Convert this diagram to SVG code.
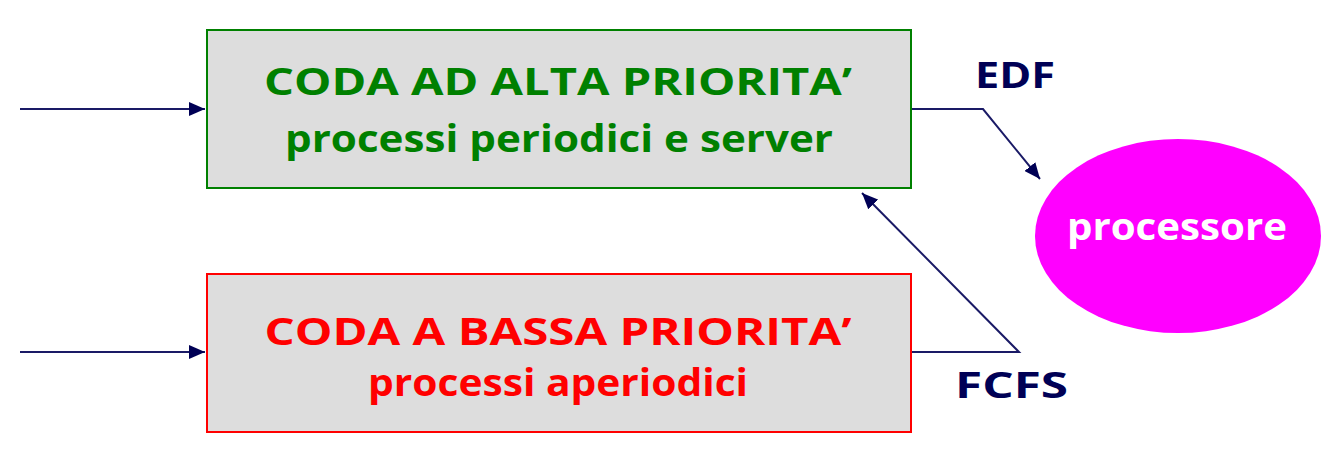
<svg xmlns="http://www.w3.org/2000/svg" width="1342" height="459" viewBox="0 0 1342 459">
  <style>
    .box { fill: #dddddd; stroke-width: 2; }
    .lbl { font-family: "Open Sans", "Noto Sans", sans-serif; font-weight: bold; text-anchor: middle; }
    .conn { fill: none; stroke: #1a1a66; stroke-width: 2; }
    .tag { font-family: "Open Sans", "Noto Sans", sans-serif; font-weight: bold; fill: #000055; font-size: 36px; }
  </style>
  <defs>
    <marker id="arr" markerUnits="userSpaceOnUse" markerWidth="18" markerHeight="14" refX="16" refY="7" orient="auto">
      <path d="M0,0 L16,7 L0,14 Z" fill="#000055"/>
    </marker>
  </defs>
  <rect width="1342" height="459" fill="#ffffff"/>

  <g id="connectors">
    <line class="conn" x1="20" y1="109" x2="205" y2="109" marker-end="url(#arr)"/>
    <line class="conn" x1="20" y1="352" x2="205" y2="352" marker-end="url(#arr)"/>
    <polyline class="conn" points="911,109 983,109 1040,179" marker-end="url(#arr)"/>
    <polyline class="conn" points="911,352 1019,352 862,193" marker-end="url(#arr)"/>
  </g>

  <g id="high-queue">
    <rect class="box" x="207" y="30" width="704" height="158" stroke="#008000"/>
    <text class="lbl" x="558" y="95" font-size="38" fill="#008000" textLength="588" lengthAdjust="spacingAndGlyphs">CODA AD ALTA PRIORITA’</text>
    <text class="lbl" x="559" y="152" font-size="38" fill="#008000" textLength="548" lengthAdjust="spacingAndGlyphs">processi periodici e server</text>
  </g>

  <g id="low-queue">
    <rect class="box" x="207" y="274" width="704" height="158" stroke="#ff0000"/>
    <text class="lbl" x="558" y="345" font-size="38" fill="#ff0000" textLength="587" lengthAdjust="spacingAndGlyphs">CODA A BASSA PRIORITA’</text>
    <text class="lbl" x="558" y="396" font-size="38" fill="#ff0000" textLength="380" lengthAdjust="spacingAndGlyphs">processi aperiodici</text>
  </g>

  <g id="processor">
    <ellipse cx="1178" cy="236" rx="143" ry="97" fill="#ff00ff"/>
    <text class="lbl" x="1177" y="240" font-size="38" fill="#ffffff" textLength="220" lengthAdjust="spacingAndGlyphs">processore</text>
  </g>

  <g id="labels">
    <text class="tag" x="975" y="88" textLength="80" lengthAdjust="spacingAndGlyphs">EDF</text>
    <text class="tag" x="955" y="398" font-size="40" textLength="113" lengthAdjust="spacingAndGlyphs">FCFS</text>
  </g>
</svg>
